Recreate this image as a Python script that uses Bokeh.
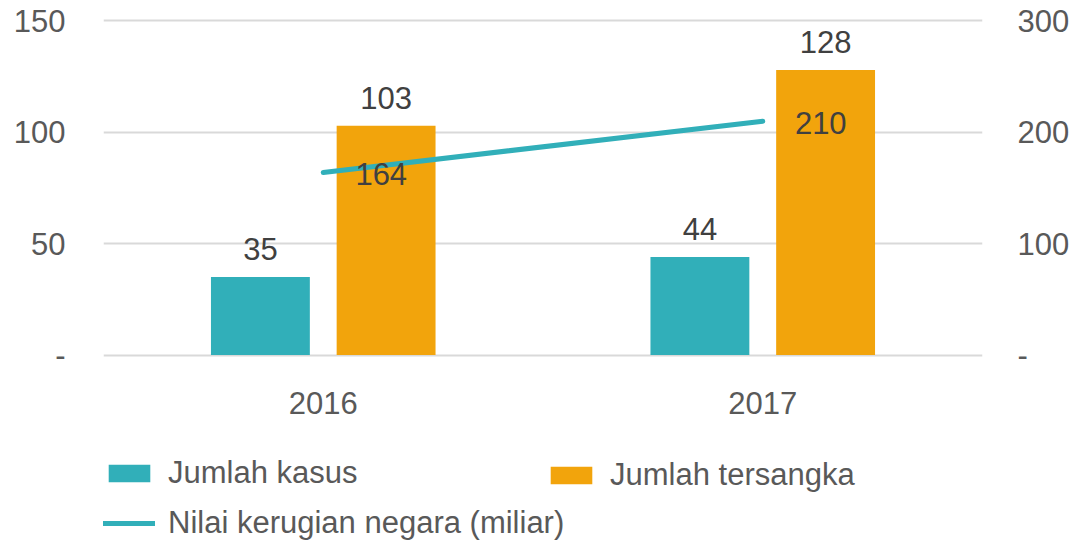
from bokeh.plotting import figure
from bokeh.layouts import column
from bokeh.models import (ColumnDataSource, FactorRange, Range1d, LinearAxis, Legend, LegendItem,
                          FixedTicker)
from bokeh.transform import dodge
from bokeh.core.properties import value
from bokeh.embed import file_html
from bokeh.resources import INLINE

years = ["2016", "2017"]
jumlah_kasus = [35, 44]
jumlah_tersangka = [103, 128]
nilai_kerugian = [164, 210]
left_ticks = [0, 50, 100, 150]
right_ticks = [0, 100, 200, 300]
legend_labels = ["Jumlah kasus", "Jumlah tersangka", "Nilai kerugian negara (miliar)"]

TEAL = "#31AFB9"
ORANGE = "#F2A40C"
AXIS_TXT = "#595959"
LBL_TXT = "#404040"
FONT = "Liberation Sans"
FS = "31px"

src = ColumnDataSource(dict(
    year=years, kasus=jumlah_kasus, tersangka=jumlah_tersangka, nilai=nilai_kerugian,
    kasus_lbl=[str(v) for v in jumlah_kasus],
    tersangka_lbl=[str(v) for v in jumlah_tersangka],
    nilai_lbl=[str(v) for v in nilai_kerugian],
))

# 334 px for 150 units; pad 2 units each side so edge gridlines are visible
p = figure(x_range=FactorRange(*years, range_padding=0), y_range=Range1d(-2, 152),
           frame_width=879, frame_height=343, width=1086, height=440,
           min_border_left=103, min_border_right=104, min_border_top=16, min_border_bottom=81,
           output_backend="svg", toolbar_location=None, background_fill_color="white",
           border_fill_color="white", outline_line_color=None)
p.extra_y_ranges = {"right": Range1d(-4, 304)}

p.vbar(x=dodge("year", -0.143, range=p.x_range), top="kasus", width=0.225, source=src,
       fill_color=TEAL, line_color=None)
p.vbar(x=dodge("year", 0.143, range=p.x_range), top="tersangka", width=0.225, source=src,
       fill_color=ORANGE, line_color=None)
p.line(x="year", y="nilai", source=src, y_range_name="right", line_color=TEAL,
       line_width=5, line_cap="round")

p.text(x=dodge("year", -0.143, range=p.x_range), y="kasus", text="kasus_lbl", source=src,
       text_align="center", text_baseline="middle", y_offset=-28,
       text_font=value(FONT), text_font_size=FS, text_color=LBL_TXT)
p.text(x=dodge("year", 0.143, range=p.x_range), y="tersangka", text="tersangka_lbl", source=src,
       text_align="center", text_baseline="middle", y_offset=-28,
       text_font=value(FONT), text_font_size=FS, text_color=LBL_TXT)
p.text(x="year", y="nilai", text="nilai_lbl", source=src, y_range_name="right",
       text_align="center", text_baseline="middle", x_offset=58, y_offset=2,
       text_font=value(FONT), text_font_size=FS, text_color=LBL_TXT)

def style_axis(ax):
    ax.axis_line_color = None
    ax.major_tick_line_color = None
    ax.minor_tick_line_color = None
    ax.major_label_text_font = FONT
    ax.major_label_text_font_size = FS
    ax.major_label_text_color = AXIS_TXT

p.yaxis.ticker = FixedTicker(ticks=left_ticks)
p.yaxis.major_label_overrides = {0: "-"}
p.yaxis.major_label_standoff = 32
style_axis(p.yaxis[0])

ra = LinearAxis(y_range_name="right", ticker=FixedTicker(ticks=right_ticks))
ra.major_label_overrides = {0: "-"}
ra.major_label_standoff = 29
style_axis(ra)
p.add_layout(ra, "right")

style_axis(p.xaxis[0])
p.xaxis.major_label_standoff = 26
p.xaxis.group_text_font_size = FS

p.xgrid.grid_line_color = None
p.ygrid.ticker = FixedTicker(ticks=left_ticks)
p.ygrid.grid_line_color = "#D9D9D9"
p.ygrid.grid_line_width = 2

# legend panel: a bare figure whose renderers lie outside its range (only the legend shows)
lg = figure(width=1086, height=104, x_range=Range1d(0, 1), y_range=Range1d(0, 1),
            min_border=0, x_axis_location=None, y_axis_location=None,
            output_backend="svg", toolbar_location=None,
            outline_line_color=None, background_fill_color="white", border_fill_color="white")
lg.grid.visible = False
r1 = lg.rect(x=[5], y=[5], width=1, height=1, fill_color=TEAL, line_color=None)
r2 = lg.rect(x=[5], y=[5], width=1, height=1, fill_color=ORANGE, line_color=None)
r3 = lg.line(x=[5, 6], y=[5, 6], line_color=TEAL, line_width=5, line_cap="round")

common = dict(glyph_width=52, glyph_height=22, label_standoff=13, spacing=14, padding=0,
              margin=0, border_line_color=None, background_fill_alpha=0,
              label_text_font=FONT, label_text_font_size=FS, label_text_color=AXIS_TXT)
legA = Legend(items=[LegendItem(label=legend_labels[0], renderers=[r1]),
                     LegendItem(label=legend_labels[2], renderers=[r3])],
              location=(0, 3), orientation="vertical", **common)
legB = Legend(items=[LegendItem(label=legend_labels[1], renderers=[r2])],
              location=(442, 51), **common)
lg.add_layout(legA, "center")
lg.add_layout(legB, "center")

open("out.html", "w").write(file_html(column(p, lg, spacing=0), INLINE))
